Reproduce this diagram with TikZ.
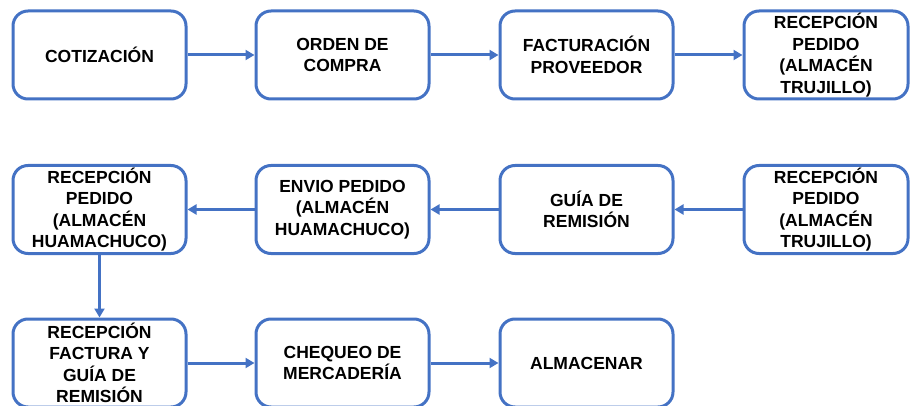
\documentclass[tikz,border=0pt]{standalone}
\usepackage{fontspec}
\setmainfont{Liberation Sans}
\usetikzlibrary{arrows.meta}
\definecolor{boxblue}{HTML}{4472C4}
\begin{document}
\begin{tikzpicture}[x=1pt,y=-1pt,
  stepbox/.style={draw=boxblue, line width=3pt, rounded corners=15pt, fill=white,
    minimum width=173pt, minimum height=88pt, align=center, inner sep=0pt,
    font=\fontsize{17.5}{21.5}\selectfont\bfseries, text=black},
  flow/.style={draw=boxblue, line width=3pt, -{Triangle[length=9pt,width=10pt]}}]
\useasboundingbox (0,0) rectangle (910,406);
\node[stepbox] (a1) at (99.5,55) {COTIZACIÓN};
\node[stepbox] (a2) at (342.5,55) {ORDEN DE\\COMPRA};
\node[stepbox] (a3) at (586.5,55) {FACTURACIÓN\\PROVEEDOR};
\node[stepbox, minimum width=164pt] (a4) at (826,55) {RECEPCIÓN\\PEDIDO\\(ALMACÉN\\TRUJILLO)};
\node[stepbox, minimum width=164pt] (b4) at (826,209.5) {RECEPCIÓN\\PEDIDO\\(ALMACÉN\\TRUJILLO)};
\node[stepbox] (b3) at (586.5,209.5) {GUÍA DE\\REMISIÓN};
\node[stepbox] (b2) at (342.5,209.5) {ENVIO PEDIDO\\(ALMACÉN\\HUAMACHUCO)};
\node[stepbox] (b1) at (99.5,209.5) {RECEPCIÓN\\PEDIDO\\(ALMACÉN\\HUAMACHUCO)};
\node[stepbox] (c1) at (99.5,363) {RECEPCIÓN\\FACTURA Y\\GUÍA DE\\REMISIÓN};
\node[stepbox] (c2) at (342.5,363) {CHEQUEO DE\\MERCADERÍA};
\node[stepbox] (c3) at (586.5,363) {ALMACENAR};
\draw[flow] (a1) -- (a2);
\draw[flow] (a2) -- (a3);
\draw[flow] (a3) -- (a4);
\draw[flow] (b4) -- (b3);
\draw[flow] (b3) -- (b2);
\draw[flow] (b2) -- (b1);
\draw[flow] (b1) -- (c1);
\draw[flow] (c1) -- (c2);
\draw[flow] (c2) -- (c3);
\end{tikzpicture}
\end{document}
